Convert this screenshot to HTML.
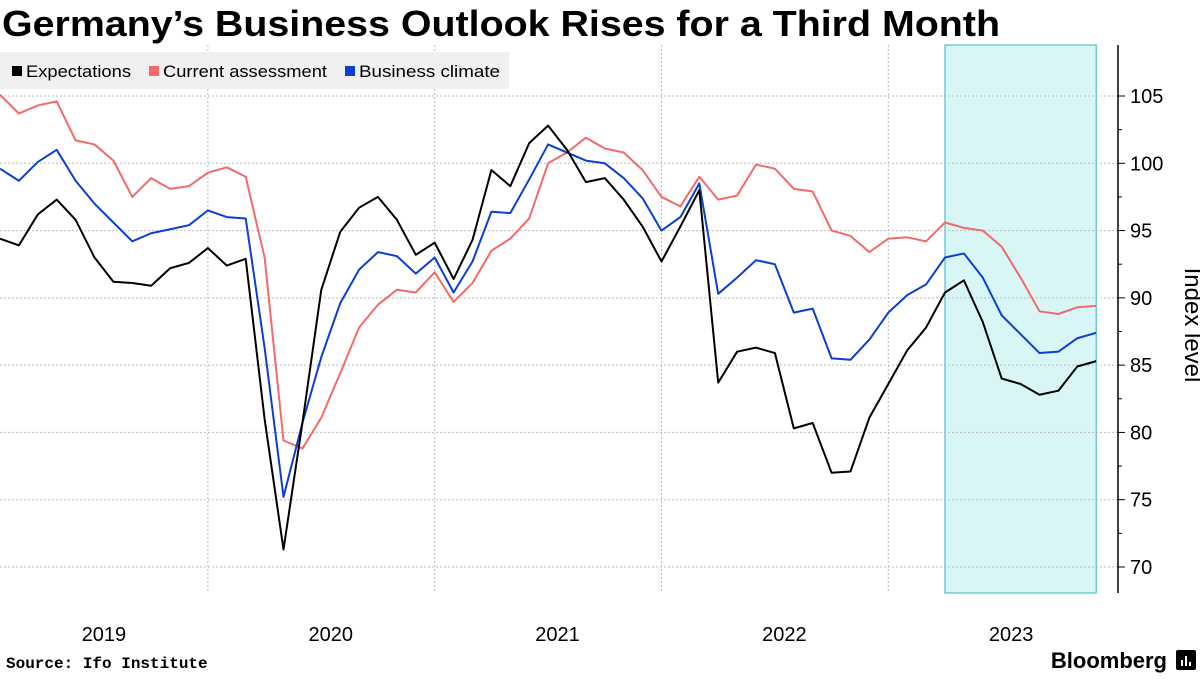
<!DOCTYPE html>
<html><head><meta charset="utf-8">
<style>
html,body{margin:0;padding:0;background:#fff;}
body{width:1200px;height:675px;overflow:hidden;font-family:"Liberation Sans",sans-serif;}
</style></head>
<body>
<svg id="chart" width="1200" height="675" viewBox="0 0 1200 675" xmlns="http://www.w3.org/2000/svg">
<text x="2" y="36" font-size="36" font-weight="bold" font-family="Liberation Sans, sans-serif" fill="#000" textLength="998" lengthAdjust="spacingAndGlyphs">Germany’s Business Outlook Rises for a Third Month</text>
<g id="plot"></g>
<g id="legend">
<rect x="0" y="52" width="509" height="37" fill="#f0f0f0"/>
<rect x="12" y="66" width="10" height="10" fill="#000"/>
<text x="26" y="77" font-size="17" fill="#000" textLength="105" lengthAdjust="spacingAndGlyphs">Expectations</text>
<rect x="149" y="66" width="10" height="10" fill="#f26a6a"/>
<text x="163" y="77" font-size="17" fill="#000" textLength="164" lengthAdjust="spacingAndGlyphs">Current assessment</text>
<rect x="345" y="66" width="10" height="10" fill="#0a3fd1"/>
<text x="359" y="77" font-size="17" fill="#000" textLength="141" lengthAdjust="spacingAndGlyphs">Business climate</text>
</g>
<text x="1185" y="325" font-size="24" fill="#000" text-anchor="middle" transform="rotate(90 1185 325)">Index level</text>
<text x="6" y="668" font-size="16" font-weight="bold" fill="#000" font-family="Liberation Mono, monospace">Source: Ifo Institute</text>
<text x="1167" y="668" font-size="22" font-weight="bold" fill="#000" text-anchor="end">Bloomberg</text>
<g>
<rect x="1176" y="650" width="20" height="20" rx="2" fill="#000"/>
<rect x="1181" y="660" width="2" height="6" fill="#fff"/><rect x="1185" y="656" width="2" height="10" fill="#fff"/><rect x="1189" y="662" width="2" height="4" fill="#fff"/>
</g>
</svg>
<script>
const expectations=[94.4,93.9,96.2,97.3,95.8,93.0,91.2,91.1,90.9,92.2,92.6,93.7,92.4,92.9,81.0,71.3,80.7,90.6,94.9,96.7,97.5,95.8,93.2,94.1,91.4,94.3,99.5,98.3,101.5,102.8,101.0,98.6,98.9,97.3,95.3,92.7,95.3,98.0,83.7,86.0,86.3,85.9,80.3,80.7,77.0,77.1,81.1,83.6,86.1,87.8,90.4,91.3,88.2,84.0,83.6,82.8,83.1,84.9,85.3];
const currentAssessment=[105.1,103.7,104.3,104.6,101.7,101.4,100.2,97.5,98.9,98.1,98.3,99.3,99.7,99.0,93.0,79.4,78.8,81.1,84.4,87.8,89.5,90.6,90.4,91.9,89.7,91.1,93.5,94.4,95.9,100.0,100.8,101.9,101.1,100.8,99.5,97.5,96.8,99.0,97.3,97.6,99.9,99.6,98.1,97.9,95.0,94.6,93.4,94.4,94.5,94.2,95.6,95.2,95.0,93.8,91.5,89.0,88.8,89.3,89.4];
const businessClimate=[99.6,98.7,100.1,101.0,98.7,97.0,95.6,94.2,94.8,95.1,95.4,96.5,96.0,95.9,86.3,75.2,80.7,85.6,89.6,92.1,93.4,93.1,91.8,93.0,90.4,92.7,96.4,96.3,98.8,101.4,100.8,100.2,100.0,98.9,97.4,95.0,96.0,98.5,90.3,91.5,92.8,92.5,88.9,89.2,85.5,85.4,86.9,88.9,90.2,91.0,93.0,93.3,91.5,88.7,87.3,85.9,86.0,87.0,87.4];
const yTicks=[70,75,80,85,90,95,100,105];
const yearLabels=["2019","2020","2021","2022","2023"];
const shadeStart=50, shadeEnd=58;

const NS="http://www.w3.org/2000/svg";
const plot=document.getElementById('plot');
const X0=0, DX=18.9, Y105=96, PPU=13.457, AXR=1118, TOP=45, BOT=593;
function xs(i){return X0+i*DX;}
function ys(v){return Y105+(105-v)*PPU;}
function mk(t,a){const e=document.createElementNS(NS,t);for(const k in a)e.setAttribute(k,a[k]);plot.appendChild(e);return e;}

const sh=mk('rect',{x:xs(shadeStart),y:TOP,width:xs(shadeEnd)-xs(shadeStart),height:BOT-TOP,fill:'#d9f6f7',stroke:'#2bb5c4','stroke-width':1});



yTicks.forEach(v=>{
  const g=mk('line',{x1:0,x2:AXR,y1:ys(v),y2:ys(v),stroke:'#bbb','stroke-dasharray':'2,2','stroke-width':1});
  
  
  const t=mk('line',{x1:AXR,x2:AXR+7,y1:ys(v),y2:ys(v),stroke:'#000','stroke-width':1});
  
  
  const l=mk('text',{x:AXR+12,y:ys(v)+7,'font-size':20,fill:'#000'});
  l.textContent=v;
  
  
});
for(let v=72.5;v<=102.5;v+=5){
  const t=mk('line',{x1:AXR,x2:AXR+4,y1:ys(v),y2:ys(v),stroke:'#000','stroke-width':1});
  
  
}
yearLabels.forEach((y,k)=>{
  if(k<4){
    const g=mk('line',{x1:xs(11+12*k),x2:xs(11+12*k),y1:TOP,y2:BOT,stroke:'#bbb','stroke-dasharray':'2,2','stroke-width':1});
    
    
  }
  const t=mk('text',{x:xs(12*k+5.5),y:641,'font-size':20,fill:'#000','text-anchor':'middle'});
  t.textContent=y;
  
  
});
const ax=mk('line',{x1:AXR,x2:AXR,y1:TOP,y2:BOT,stroke:'#000','stroke-width':1.5});



function series(arr,color,name){
  const p=mk('polyline',{points:arr.map((v,i)=>xs(i)+','+ys(v)).join(' '),fill:'none',stroke:color,'stroke-width':2,'stroke-linejoin':'round'});
  
  
}
series(currentAssessment,'#f26a6a','current-assessment-line');
series(businessClimate,'#0a3fd1','business-climate-line');
series(expectations,'#000','expectations-line');
</script>
</body></html>
